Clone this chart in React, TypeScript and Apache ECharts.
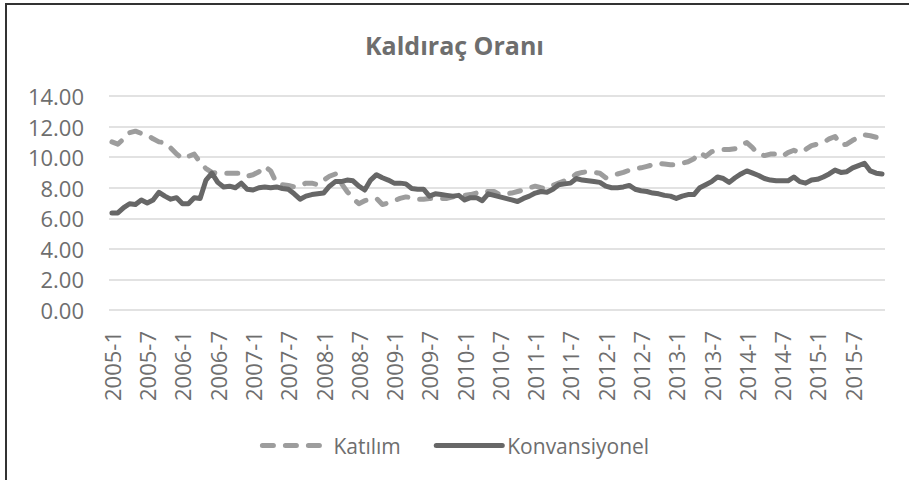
import React, { useEffect, useRef } from "react";
import * as echarts from "echarts";

const years = [2005, 2006, 2007, 2008, 2009, 2010, 2011, 2012, 2013, 2014, 2015];
const categories: string[] = [];
years.forEach((y) => {
  for (let m = 1; m <= 12; m++) categories.push(`${y}-${m}`);
});

const katilim = [
  11.0, 10.85, 11.2, 11.6, 11.7, 11.55, 11.45, 11.2, 11.0, 10.95, 10.6, 10.2,
  9.9, 10.05, 10.2, 9.65, 9.25, 9.0, 8.95, 8.95, 8.95, 8.95, 8.95, 8.75,
  8.85, 9.05, 9.4, 9.1, 8.3, 8.2, 8.15, 8.05, 8.15, 8.3, 8.3, 8.2,
  8.5, 8.75, 8.9, 8.3, 7.75, 7.3, 6.95, 7.15, 7.25, 7.3, 6.9, 7.0,
  7.15, 7.3, 7.4, 7.35, 7.25, 7.25, 7.3, 7.3, 7.3, 7.3, 7.4, 7.45,
  7.5, 7.55, 7.65, 7.8, 7.75, 7.75, 7.55, 7.6, 7.65, 7.75, 7.85, 8.0,
  8.1, 8.0, 7.95, 8.15, 8.3, 8.45, 8.6, 8.9, 9.0, 9.05, 9.0, 8.95,
  8.65, 8.75, 8.9, 9.0, 9.15, 9.25, 9.3, 9.4, 9.5, 9.6, 9.55, 9.5,
  9.5, 9.6, 9.7, 9.9, 10.3, 10.05, 10.35, 10.45, 10.5, 10.5, 10.55, 10.8,
  10.95, 10.6, 10.2, 10.1, 10.2, 10.2, 10.05, 10.3, 10.45, 10.3, 10.5, 10.75,
  10.85, 10.95, 11.2, 11.35, 10.8, 10.85, 11.1, 11.3, 11.45, 11.4, 11.3, 11.3,
];

const konvansiyonel = [
  6.35, 6.35, 6.7, 6.95, 6.9, 7.2, 7.0, 7.2, 7.7, 7.45, 7.25, 7.35,
  6.95, 6.95, 7.35, 7.3, 8.5, 8.95, 8.35, 8.05, 8.1, 8.0, 8.3, 7.9,
  7.85, 8.0, 8.05, 8.0, 8.05, 7.95, 7.9, 7.6, 7.25, 7.45, 7.55, 7.6,
  7.65, 8.1, 8.4, 8.4, 8.5, 8.45, 8.1, 7.85, 8.5, 8.85, 8.65, 8.5,
  8.3, 8.3, 8.25, 7.95, 7.9, 7.9, 7.45, 7.6, 7.55, 7.5, 7.45, 7.5,
  7.2, 7.35, 7.35, 7.15, 7.6, 7.5, 7.4, 7.3, 7.2, 7.1, 7.3, 7.45,
  7.65, 7.75, 7.7, 7.9, 8.2, 8.25, 8.3, 8.6, 8.5, 8.45, 8.4, 8.35,
  8.1, 8.0, 8.0, 8.05, 8.15, 7.9, 7.8, 7.75, 7.65, 7.6, 7.5, 7.45,
  7.3, 7.45, 7.55, 7.55, 8.0, 8.2, 8.4, 8.7, 8.6, 8.35, 8.65, 8.9,
  9.1, 8.95, 8.8, 8.6, 8.5, 8.45, 8.45, 8.45, 8.7, 8.4, 8.3, 8.5,
  8.55, 8.7, 8.9, 9.15, 9.0, 9.05, 9.3, 9.45, 9.6, 9.1, 8.95, 8.9,
];

const FONT = "'Open Sans', sans-serif";
const TEXT = "#6e6e6e";

export default function App() {
  const ref = useRef<HTMLDivElement>(null);
  useEffect(() => {
    if (!ref.current) return;
    const chart = echarts.init(ref.current, null, { renderer: "svg" });
    chart.setOption({
      animation: false,
      backgroundColor: "#ffffff",
      title: {
        text: "Kaldıraç Oranı",
        left: "center",
        top: 27,
        textStyle: { fontFamily: FONT, fontSize: 25, fontWeight: "bold", color: TEXT },
      },
      legend: {
        left: "center",
        top: 430,
        itemWidth: 66,
        itemHeight: 6,
        itemGap: 33,
        itemStyle: { opacity: 0 },
        lineStyle: { width: 5 },
        textStyle: { fontFamily: FONT, fontSize: 21, color: TEXT },
        data: ["Katılım", "Konvansiyonel"],
      },
      grid: { left: 109, right: 24, top: 96, bottom: 170 },
      xAxis: {
        type: "category",
        data: categories,
        boundaryGap: true,
        axisLine: { show: false },
        axisTick: { show: false },
        axisLabel: {
          interval: 5,
          rotate: 90,
          margin: 21,
          fontFamily: FONT,
          fontSize: 22,
          color: TEXT,
        },
      },
      yAxis: {
        type: "value",
        min: 0,
        max: 14,
        interval: 2,
        axisLine: { show: false },
        axisTick: { show: false },
        splitLine: { lineStyle: { color: "#d9d9d9", width: 1.5 } },
        axisLabel: {
          margin: 25,
          fontFamily: FONT,
          fontSize: 22,
          color: TEXT,
          formatter: (v: number) => v.toFixed(2),
        },
      },
      series: [
        {
          name: "Katılım",
          type: "line",
          data: katilim,
          symbol: "none",
          itemStyle: { color: "#9d9d9d" },
          lineStyle: { color: "#9d9d9d", width: 5, type: [11, 12], cap: "round", join: "round" },
        },
        {
          name: "Konvansiyonel",
          type: "line",
          data: konvansiyonel,
          symbol: "none",
          itemStyle: { color: "#676767" },
          lineStyle: { color: "#676767", width: 5, cap: "round", join: "round" },
        },
      ],
    });
    return () => chart.dispose();
  }, []);
  return (
    <div style={{ position: "fixed", left: 0, top: 0, width: 909, height: 480, background: "#fff" }}>
      <div ref={ref} style={{ position: "absolute", left: 0, top: 0, width: 909, height: 480 }} />
      <div
        style={{
          position: "absolute",
          left: 5,
          top: 3,
          width: 904,
          height: 477,
          borderLeft: "2px solid #333",
          borderTop: "2px solid #333",
          boxSizing: "border-box",
          pointerEvents: "none",
        }}
      />
    </div>
  );
}
